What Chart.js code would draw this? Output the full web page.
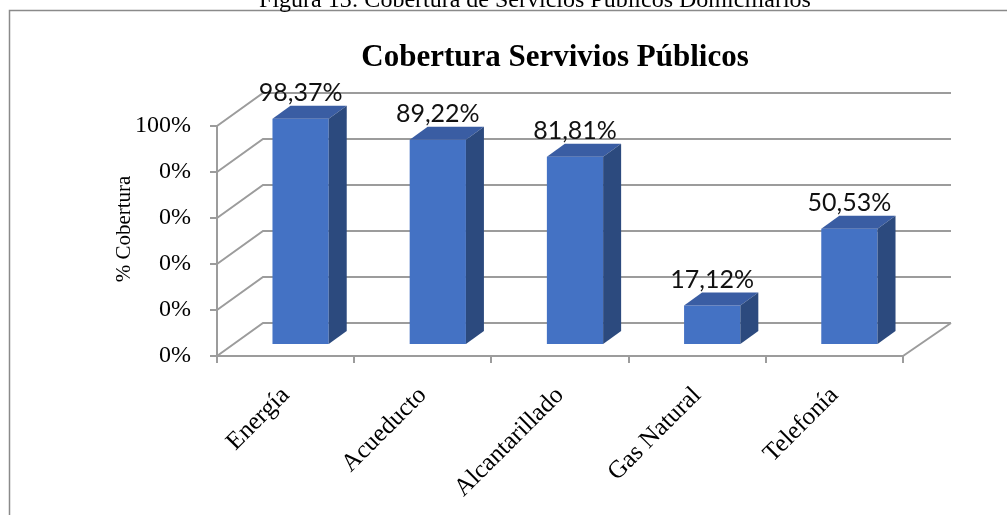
<!DOCTYPE html>
<html>
<head>
<meta charset="utf-8">
<script src="https://cdn.jsdelivr.net/npm/chart.js@4.4.1/dist/chart.umd.min.js"></script>
<style>
  html, body { margin: 0; padding: 0; background: #fff; }
  #wrap { position: relative; width: 1007px; height: 515px; }
</style>
</head>
<body>
<div id="wrap"><canvas id="coberturaChart" width="1007" height="515"></canvas></div>
<script>
// datos de cobertura
var categorias  = ['Energía', 'Acueducto', 'Alcantarillado', 'Gas Natural', 'Telefonía'];
var cobertura   = [98.37, 89.22, 81.81, 17.12, 50.53];
var etiquetasY  = ['0%', '0%', '0%', '0%', '0%', '100%'];

var tituloFigura = 'Figura 13: Cobertura de Servicios Públicos Domiciliarios';
var tituloChart  = 'Cobertura Servivios Públicos';
var tituloEjeY   = '% Cobertura';

function fmtPct(v) {
  return v.toFixed(2).replace('.', ',') + '%';
}

// profundidad del "piso" 3D y de las barras
var FONDO = { dx: 46, dy: -33 };
var PLANO = { dx: 15, dy: -11 };
var CUBO  = { dx: 18, dy: -13 };
var GRIS  = '#9c9c9c';

var efecto3D = {
  id: 'efecto3D',
  beforeDraw: function (chart) {
    var ctx = chart.ctx;
    ctx.save();
    // marco del gráfico
    ctx.strokeStyle = '#8a8a8a';
    ctx.lineWidth = 1.5;
    ctx.strokeRect(9.5, 10.5, 1100, 600);
    // títulos
    ctx.fillStyle = '#000';
    ctx.textAlign = 'center';
    ctx.textBaseline = 'alphabetic';
    ctx.font = '24px "Liberation Serif", "Times New Roman", serif';
    ctx.fillText(tituloFigura, 535, 7);
    ctx.font = 'bold 31px "Liberation Serif", "Times New Roman", serif';
    ctx.fillText(tituloChart, 555, 66);
    ctx.translate(130, 229);
    ctx.rotate(-Math.PI / 2);
    ctx.font = '21px "Liberation Serif", "Times New Roman", serif';
    ctx.fillText(tituloEjeY, 0, 0);
    ctx.restore();
  },
  beforeDatasetsDraw: function (chart) {
    var ctx = chart.ctx;
    var a = chart.chartArea;
    var y = chart.scales.y;
    ctx.save();
    ctx.strokeStyle = GRIS;
    ctx.lineWidth = 2;
    ctx.beginPath();
    y.ticks.forEach(function (t) {
      var py = Math.round(y.getPixelForValue(t.value));
      ctx.moveTo(a.left, py);
      ctx.lineTo(a.left + FONDO.dx, py + FONDO.dy);
      ctx.lineTo(a.right + FONDO.dx + 2, py + FONDO.dy);
    });
    // lado derecho del piso
    ctx.moveTo(a.right, a.bottom);
    ctx.lineTo(a.right + FONDO.dx + 2, a.bottom + FONDO.dy);
    ctx.stroke();
    ctx.restore();

    // las barras se dibujan desplazadas hacia el fondo
    ctx.save();
    ctx.translate(PLANO.dx, PLANO.dy);
  },
  afterDatasetsDraw: function (chart) {
    var ctx = chart.ctx;
    ctx.restore();
    var meta = chart.getDatasetMeta(0);
    ctx.save();
    meta.data.forEach(function (bar, i) {
      var w = bar.width;
      var x0 = bar.x - w / 2 + PLANO.dx;
      var x1 = bar.x + w / 2 + PLANO.dx;
      var yt = bar.y + PLANO.dy;
      var yb = bar.base + PLANO.dy;
      // cara superior
      ctx.fillStyle = '#3a5da3';
      ctx.beginPath();
      ctx.moveTo(x0, yt);
      ctx.lineTo(x1, yt);
      ctx.lineTo(x1 + CUBO.dx, yt + CUBO.dy);
      ctx.lineTo(x0 + CUBO.dx, yt + CUBO.dy);
      ctx.closePath();
      ctx.fill();
      // cara lateral
      ctx.fillStyle = '#2c4a7e';
      ctx.beginPath();
      ctx.moveTo(x1, yt);
      ctx.lineTo(x1 + CUBO.dx, yt + CUBO.dy);
      ctx.lineTo(x1 + CUBO.dx, yb + CUBO.dy);
      ctx.lineTo(x1, yb);
      ctx.closePath();
      ctx.fill();
      // etiqueta de valor
      ctx.fillStyle = '#111';
      ctx.font = '25px Lato, "Open Sans", sans-serif';
      ctx.textAlign = 'center';
      ctx.textBaseline = 'alphabetic';
      ctx.fillText(fmtPct(cobertura[i]), bar.x + PLANO.dx, yt + CUBO.dy - 5);
    });
    ctx.restore();
  }
};

new Chart(document.getElementById('coberturaChart'), {
  type: 'bar',
  data: {
    labels: categorias,
    datasets: [{
      data: cobertura,
      backgroundColor: '#4472c4',
      borderWidth: 0,
      barPercentage: 0.41,
      categoryPercentage: 1
    }]
  },
  options: {
    responsive: false,
    animation: false,
    events: [],
    layout: { padding: { left: 10, top: 126, right: 104, bottom: 0 } },
    plugins: { legend: { display: false }, title: { display: false }, tooltip: { enabled: false } },
    scales: {
      x: {
        afterFit: function (s) { s.height = 159; },
        grid: { drawOnChartArea: false, offset: true, tickLength: 7, color: GRIS, lineWidth: 2 },
        border: { color: GRIS, width: 2 },
        ticks: {
          minRotation: 45, maxRotation: 45, padding: 18,
          color: '#000',
          font: { family: '"Liberation Serif", "Times New Roman", serif', size: 25 }
        }
      },
      y: {
        min: 0, max: 100,
        afterFit: function (s) { s.width = 207; },
        grid: { drawOnChartArea: false, tickLength: 7, color: GRIS, lineWidth: 2 },
        border: { color: GRIS, width: 2 },
        ticks: {
          stepSize: 20, padding: 19,
          color: '#000',
          font: { family: '"Liberation Serif", "Times New Roman", serif', size: 24 },
          callback: function (v, idx) { return etiquetasY[idx]; }
        }
      }
    }
  },
  plugins: [efecto3D]
});
</script>
</body>
</html>
